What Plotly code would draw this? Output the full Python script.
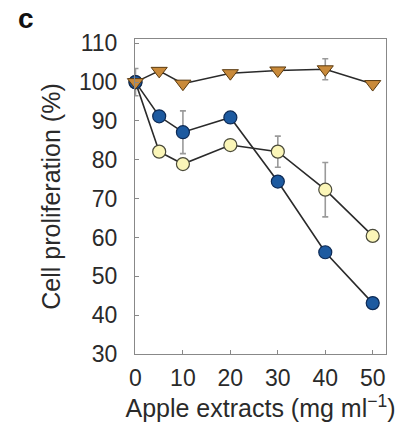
import plotly.graph_objects as go

x_conc = [0, 5, 10, 20, 30, 40, 50]
x_ticks = [0, 10, 20, 30, 40, 50]
y_ticks = [30, 40, 50, 60, 70, 80, 90, 100, 110]

orange_vals = [100, 102.9, 99.6, 102.3, 103.0, 103.3, 99.5]
orange_err = [0, 0, 0, 0, 0, 2.7, 0]
blue_vals = [100, 91.2, 87.1, 90.9, 74.4, 56.2, 43.1]
blue_err = [0, 0, 5.5, 0, 0, 0, 0]
yellow_vals = [100, 82.1, 78.9, 83.8, 82.1, 72.3, 60.4]
yellow_err = [3.5, 0, 0, 0, 4.0, 7.0, 0]

font = "Liberation Sans, Arial, sans-serif"
err_style = dict(type="data", color="#9a9a9a", thickness=1.6, width=3)

fig = go.Figure()
fig.add_trace(go.Scatter(
    x=x_conc, y=yellow_vals, mode="lines+markers",
    line=dict(color="#2a2a2a", width=1.6),
    marker=dict(symbol="circle", size=13, color="#fbf6b8",
                line=dict(color="#4a4a3a", width=1.2)),
    error_y=dict(array=yellow_err, **err_style),
    cliponaxis=False, showlegend=False))
fig.add_trace(go.Scatter(
    x=x_conc, y=blue_vals, mode="lines+markers",
    line=dict(color="#2a2a2a", width=1.6),
    marker=dict(symbol="circle", size=13, color="#1d5aa0",
                line=dict(color="#0d2a55", width=1.2)),
    error_y=dict(array=blue_err, **err_style),
    cliponaxis=False, showlegend=False))
fig.add_trace(go.Scatter(
    x=x_conc, y=orange_vals, mode="lines+markers",
    line=dict(color="#2a2a2a", width=1.6),
    marker=dict(symbol="triangle-down", size=14, color="#c98a3a",
                line=dict(color="#5a3a10", width=1.0)),
    error_y=dict(array=orange_err, **err_style),
    cliponaxis=False, showlegend=False))

fig.update_layout(
    width=396, height=427,
    margin=dict(l=135, r=10, t=39, b=73),
    paper_bgcolor="white", plot_bgcolor="white",
    font=dict(family=font, size=20, color="#2a2a2a"),
    annotations=[dict(text="<b>c</b>", xref="paper", yref="paper",
                      x=-0.475, y=1.065, xanchor="left", yanchor="middle",
                      showarrow=False, font=dict(size=28, color="#111"))],
)
fig.update_xaxes(
    range=[-0.1, 52.8], tickvals=x_ticks, ticktext=[str(v) for v in x_ticks],
    ticks="inside", ticklen=4, tickcolor="#888", showline=True, linecolor="#888",
    linewidth=1, mirror=True, showgrid=False, zeroline=False,
    tickfont=dict(size=23, color="#2a2a2a"), ticklabelstandoff=3,
    title=dict(text="Apple extracts (mg ml<sup>−1</sup>)", font=dict(size=25), standoff=5))
fig.update_yaxes(
    range=[30, 111.1], tickvals=y_ticks, ticktext=[str(v) for v in y_ticks],
    ticks="inside", ticklen=4, tickcolor="#888", showline=True, linecolor="#888",
    linewidth=1, mirror=True, showgrid=False, zeroline=False,
    tickfont=dict(size=23, color="#2a2a2a"), ticklabelstandoff=12,
    title=dict(text="Cell proliferation (%)", font=dict(size=25), standoff=11))

fig.write_html("out.html")
